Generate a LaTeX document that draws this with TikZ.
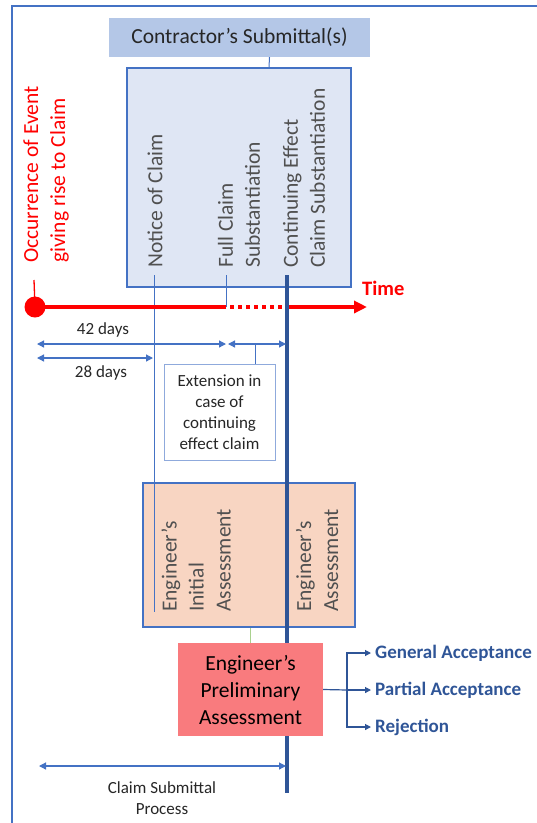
\documentclass[tikz,border=0pt]{standalone}
\usepackage{fontspec}
\setmainfont{Carlito}
\usetikzlibrary{arrows.meta}

\definecolor{frameblue}{HTML}{4472C4}
\definecolor{darkblue}{HTML}{2F5597}
\definecolor{subfill}{HTML}{B4C7E7}
\definecolor{boxfill}{HTML}{DFE6F4}
\definecolor{peach}{HTML}{F8D5C2}
\definecolor{salmon}{HTML}{F97B7E}
\definecolor{greyink}{HTML}{505050}
\definecolor{darkink}{HTML}{262626}
\definecolor{extblue}{HTML}{8FAADC}
\definecolor{leaf}{HTML}{A9D18E}

\begin{document}
\begin{tikzpicture}[x=1pt,y=-1pt,
  bigtext/.style={font=\fontsize{21.5}{27}\selectfont},
  smalltext/.style={font=\fontsize{17}{21}\selectfont, text=darkink},
  vlabel/.style={bigtext, text=greyink, rotate=90, anchor=west, align=left, inner sep=0pt},
  thinline/.style={frameblue, line width=1pt},
  milestone/.style={darkblue, line width=4pt},
  timeline/.style={red, line width=4pt},
  span/.style={frameblue, line width=1.2pt,
    {Triangle[length=7pt,width=7pt]}-{Triangle[length=7pt,width=7pt]}},
  outarrow/.style={darkblue, line width=1.2pt, -{Triangle[length=6pt,width=6pt]}},
  outcome/.style={font=\fontsize{19}{22}\selectfont\bfseries, text=darkblue, anchor=west, inner sep=4pt},
]
\useasboundingbox (0,0) rectangle (537,823);

% frame
\draw[frameblue, line width=1.6pt] (12,823) -- (12,6) -- (537,6);

% contractor's submittals
\node (contr) [fill=subfill, minimum width=261pt, minimum height=39pt, inner sep=0pt,
  bigtext, text=darkink] at (239.5,37.5) {Contractor’s Submittal(s)};
\node (subbox) [draw=frameblue, line width=1.2pt, fill=boxfill, minimum width=224pt,
  minimum height=219pt, inner sep=0pt] at (239,177.5) {};
\draw[thinline] ([xshift=30pt]contr.south) -- ([xshift=30pt]subbox.north);

\node (notice) [vlabel] at (155,268) {Notice of Claim};
\node (full) [vlabel] at (239,268) {Full Claim\\Substantiation};
\node (cont) [vlabel] at (304,268) {Continuing Effect\\Claim Substantiation};

% engineer's assessments
\node (assess) [draw=frameblue, line width=1.2pt, fill=peach, minimum width=212pt,
  minimum height=144pt, inner sep=0pt] at (249,555) {};
\node (initial) [vlabel] at (196,612) {Engineer’s\\Initial\\Assessment};
\node (later) [vlabel] at (317,612) {Engineer’s\\Assessment};

% milestone lines
\coordinate (nT) at (154,275);
\coordinate (nB) at (154,612);
\coordinate (fT) at (226,275);
\coordinate (fB) at (226,307);
\coordinate (cT) at (287,275);
\coordinate (cB) at (287,793);
\draw[thinline] (nT) -- (nB);
\draw[thinline] (fT) -- (fB);

% event and time axis
\coordinate (ev) at (35,307);
\coordinate (evTop) at (34,280);
\coordinate (dotA) at (230,307);
\coordinate (dotB) at (285,307);
\coordinate (tEnd) at (367,307);
\node (event) [vlabel, text=red] at (46,263) {Occurrence of Event\\giving rise to Claim};
\draw[red, line width=1.3pt] (evTop) -- (ev);
\draw[timeline] (ev) -- (fB);
\draw[timeline, dash pattern=on 4pt off 4pt] (dotA) -- (dotB);
\draw[timeline, -{Triangle[length=13pt,width=12pt]}] (cB |- ev) -- (tEnd);
\fill[red] (ev) circle (10.5pt);
\node (time) [font=\fontsize{20.5}{24}\selectfont\bfseries, text=red, anchor=west, inner sep=0pt]
  at (362,288) {Time};

\draw[milestone] (cT) -- (cB);

% preliminary assessment sits over the milestone line
\node (prelim) [fill=salmon, minimum width=145pt, minimum height=93pt, inner sep=0pt,
  bigtext, text=black, align=center] at (250.5,689.5) {Engineer’s\\Preliminary\\Assessment};
\draw[leaf, line width=1pt] (prelim.north) -- (prelim.north |- assess.south);

% periods
\coordinate (a42) at (37,344);
\coordinate (b42) at (226,344);
\coordinate (aExt) at (228,344);
\coordinate (bExt) at (286,344);
\coordinate (mExt) at (255,344);
\coordinate (a28) at (37,358);
\coordinate (b28) at (153,358);
\draw[span] (a42) -- (b42);
\draw[span] (aExt) -- (bExt);
\draw[span] (a28) -- (b28);
\node (l42) [smalltext] at (103,330) {42 days};
\node (l28) [smalltext] at (101,373) {28 days};

\node (ext) [draw=extblue, line width=1pt, minimum width=111pt, minimum height=96pt,
  inner sep=0pt, smalltext, align=center] at (219.5,412)
  {Extension in\\case of\\continuing\\effect claim};
\draw[thinline] (mExt) -- (mExt |- ext.north);

% claim submittal process
\coordinate (aProc) at (39,766);
\coordinate (bProc) at (286,766);
\draw[span] (aProc) -- (bProc);
\node (proc) [smalltext, align=center] at (162,798) {Claim Submittal\\Process};

% outcomes
\coordinate (br) at (347,690);
\node (gen) [outcome] at (371,653) {General Acceptance};
\node (part) [outcome] at (371,690) {Partial Acceptance};
\node (rej) [outcome] at (371,727) {Rejection};
\draw[darkblue, line width=1.2pt] (prelim.east) -- (br);
\draw[outarrow] (br) -- (part.west);
\draw[outarrow] (br) |- (gen.west);
\draw[outarrow] (br) |- (rej.west);
\end{tikzpicture}
\end{document}
